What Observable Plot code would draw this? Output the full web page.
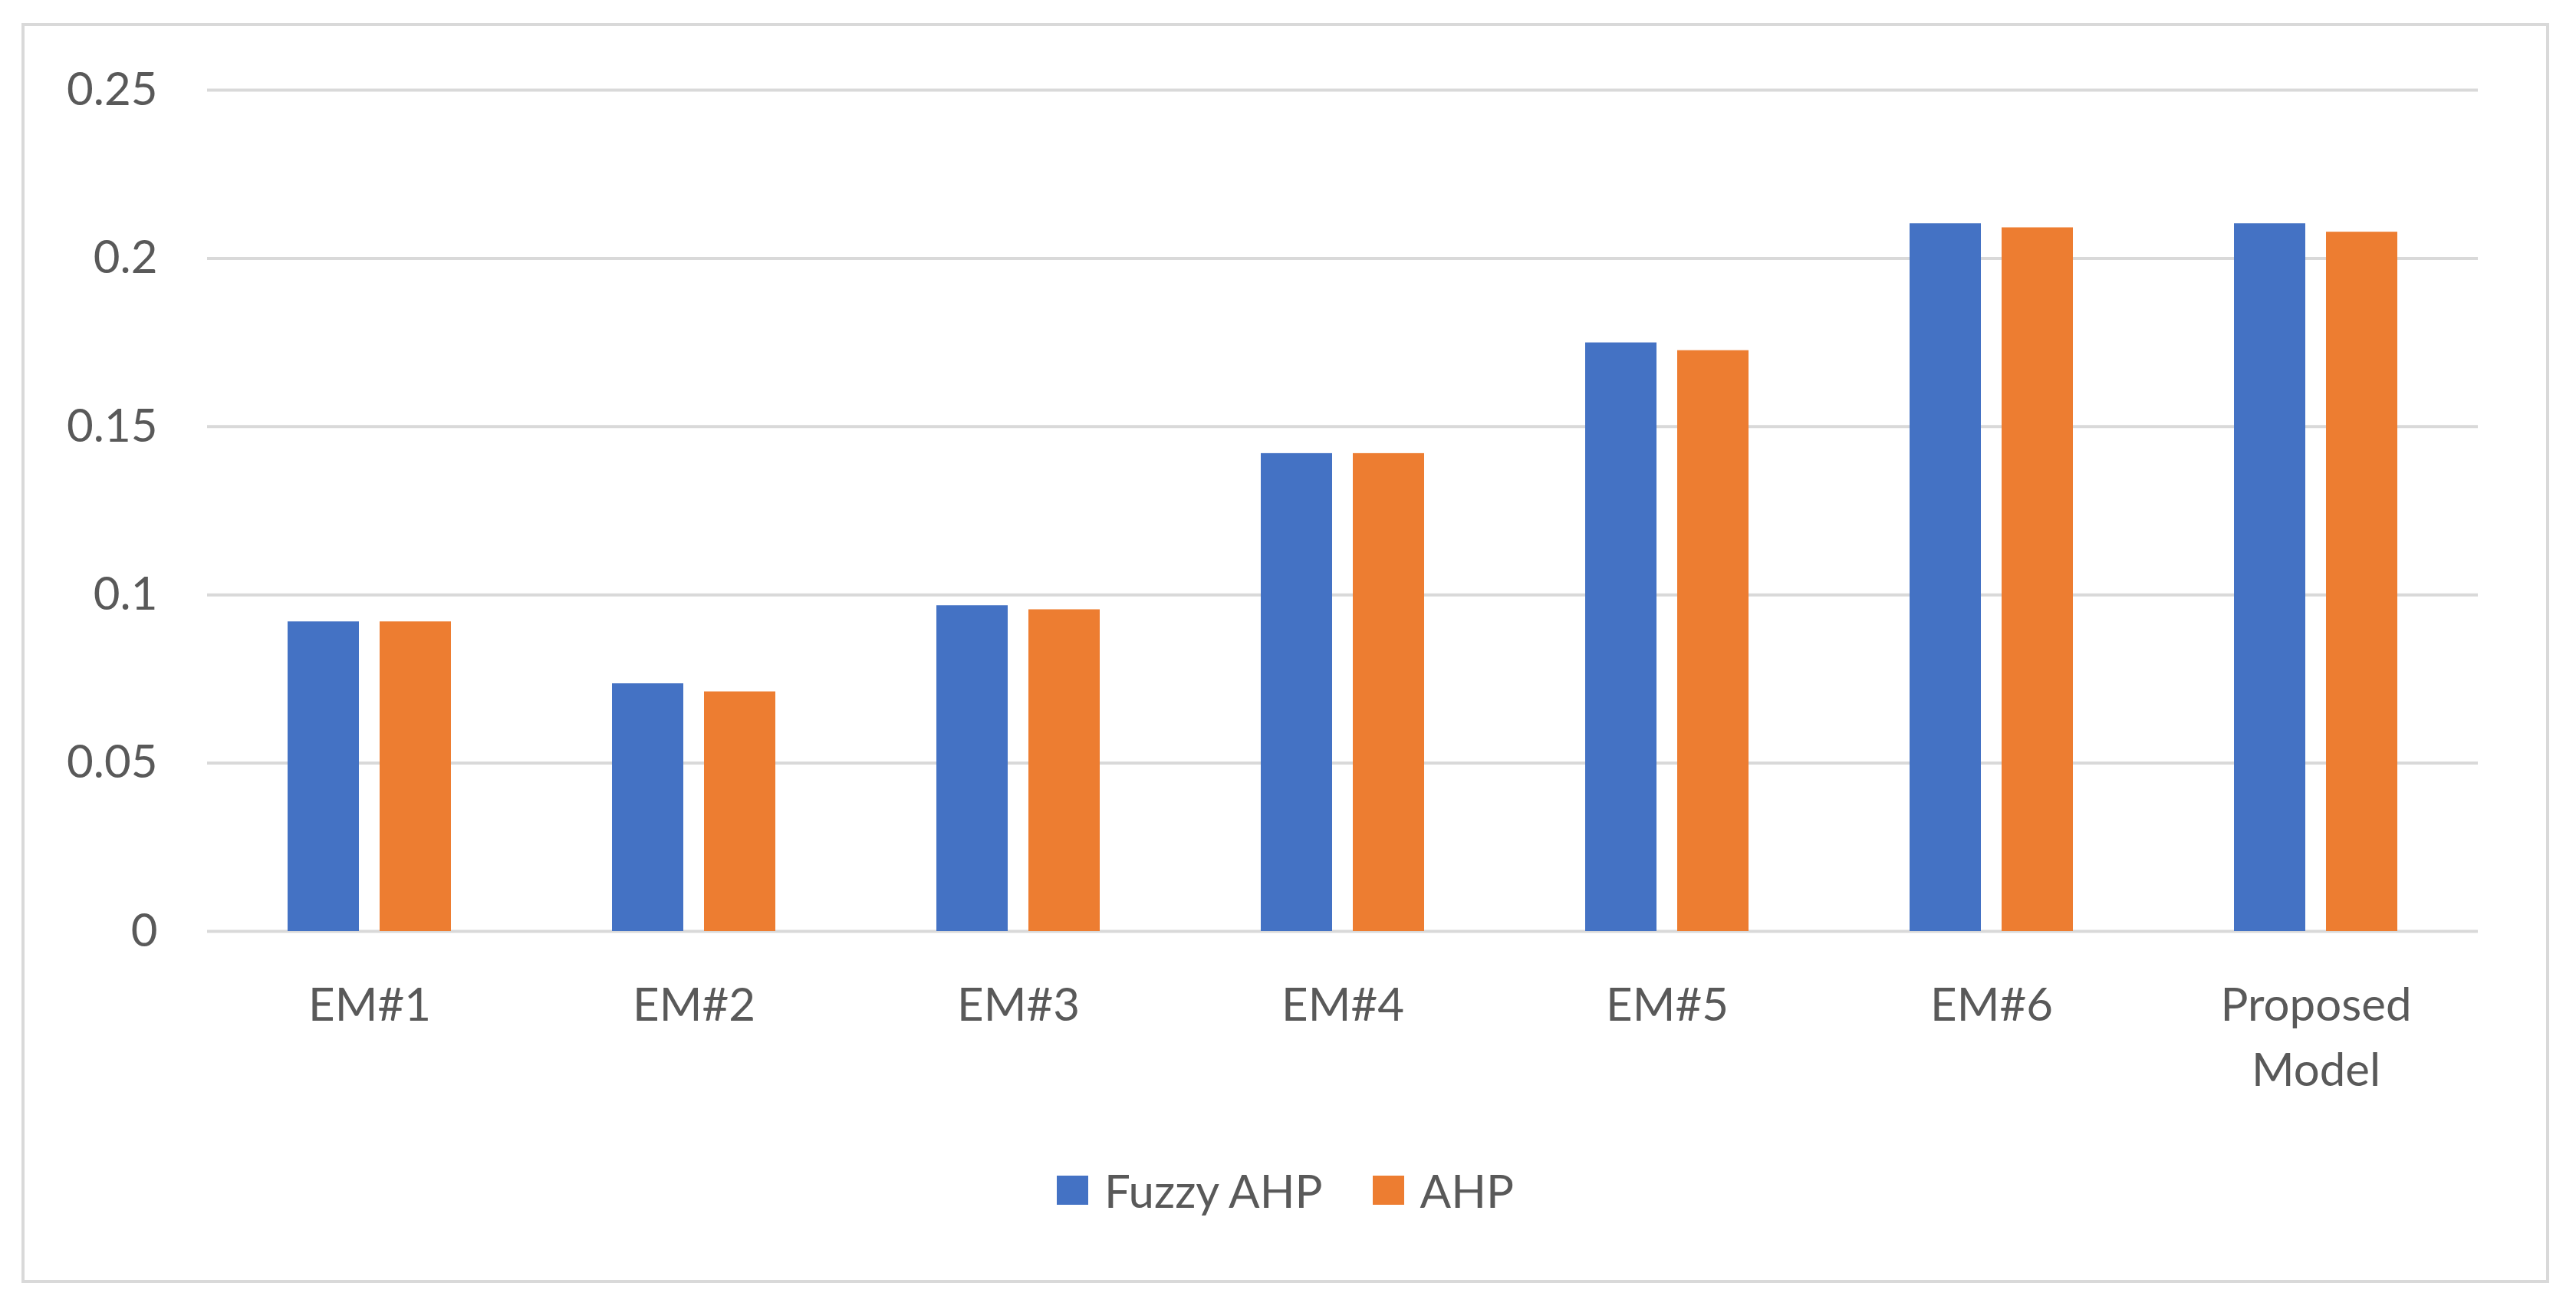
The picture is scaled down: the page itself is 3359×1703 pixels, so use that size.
<!DOCTYPE html>
<html>
<head>
<meta charset="utf-8">
<script src="https://cdn.jsdelivr.net/npm/d3@7"></script>
<script src="https://cdn.jsdelivr.net/npm/@observablehq/plot@0.6"></script>
<style>
  html, body { margin: 0; padding: 0; background: #ffffff; }
  #page { position: relative; width: 3359px; height: 1703px; background: #ffffff; overflow: hidden; font-family: Lato, "Open Sans", sans-serif; }
  #frame { position: absolute; left: 28px; top: 30px; width: 3296px; height: 1643px; box-sizing: border-box; border: 4px solid #d9d9d9; }
  #chart { position: absolute; left: 0; top: 0; }
  #legend { position: absolute; left: 28px; width: 3296px; top: 1522px; height: 60px; display: flex; justify-content: center; align-items: center; gap: 65px; color: #595959; font-size: 60px; }
  .item { display: flex; align-items: center; gap: 21px; }
  .swatch { width: 41px; height: 38px; }
</style>
</head>
<body>
<div id="page">
  <div id="frame"></div>
  <div id="chart"></div>
  <div id="legend"></div>
</div>
<script>
const categories = ["EM#1", "EM#2", "EM#3", "EM#4", "EM#5", "EM#6", "Proposed Model"];
const series = ["Fuzzy AHP", "AHP"];
const fuzzyAHP = [0.092, 0.0736, 0.0968, 0.142, 0.1749, 0.2103, 0.2103];
const ahp = [0.092, 0.0712, 0.0956, 0.142, 0.1726, 0.2091, 0.2078];
const yTicks = [0, 0.05, 0.1, 0.15, 0.2, 0.25];
const colors = ["#4472C4", "#ED7D31"];

const data = categories.flatMap((c, i) => [
  {category: c, series: series[0], value: fuzzyAHP[i]},
  {category: c, series: series[1], value: ahp[i]}
]);

const chart = Plot.plot({
  width: 3359,
  height: 1460,
  marginLeft: 269,
  marginRight: 128,
  marginTop: 117,
  marginBottom: 246,
  style: {fontFamily: "Lato, 'Open Sans', sans-serif", fontSize: "60px", color: "#595959", background: "transparent"},
  fx: {domain: categories, padding: 0, label: null},
  x: {domain: series, paddingInner: 0.225, paddingOuter: 0.875, axis: null},
  y: {domain: [0, 0.25], label: null},
  color: {domain: series, range: colors},
  marks: [
    Plot.gridY(yTicks, {stroke: "#d9d9d9", strokeOpacity: 1, strokeWidth: 4}),
    Plot.axisY(yTicks, {tickSize: 0, tickPadding: 65, tickFormat: d => String(d), fontSize: 60, label: null}),
    Plot.axisFx({anchor: "bottom", tickSize: 0, tickPadding: 56, tickFormat: d => d.replace(" ", "\n"), lineHeight: 1.42, fontSize: 60, label: null}),
    Plot.barY(data, {fx: "category", x: "series", y: "value", fill: "series"})
  ]
});
document.getElementById("chart").appendChild(chart);

const legend = document.getElementById("legend");
series.forEach((s, i) => {
  const item = document.createElement("div");
  item.className = "item";
  const sw = document.createElement("div");
  sw.className = "swatch";
  sw.style.background = colors[i];
  const label = document.createElement("span");
  label.textContent = s;
  item.appendChild(sw);
  item.appendChild(label);
  legend.appendChild(item);
});
</script>
</body>
</html>
